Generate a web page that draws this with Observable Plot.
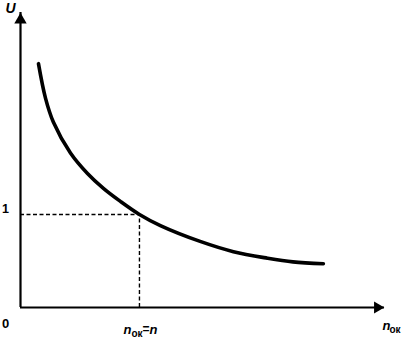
<!DOCTYPE html>
<html>
<head>
<meta charset="utf-8">
<script src="https://cdn.jsdelivr.net/npm/d3@7"></script>
<script src="https://cdn.jsdelivr.net/npm/@observablehq/plot@0.6"></script>
<style>
  html, body { margin: 0; padding: 0; background: #fff; }
</style>
</head>
<body>
<div id="chart"></div>
<script>
// Curve U(n_ok), with n_ok = n where U = 1
const nOk = [0.151, 0.21, 0.277, 0.42, 0.563, 0.697, 0.84, 1.0, 1.176, 1.51, 1.79, 2.076, 2.29, 2.546];
const U   = [2.62, 2.25, 1.99, 1.66, 1.44, 1.28, 1.14, 1.0, 0.88, 0.71, 0.60, 0.53, 0.49, 0.47];

const refN = 1;      // n_ok = n
const refU = 1;      // U = 1
const xMax = 3.06;
const yMax = 3.17;

const yTitle = "U";
const xTitle = "n";
const xTitleSub = "ок";
const originLabel = "0";
const yTickLabel = "1";

const curve = nOk.map((x, i) => ({x, u: U[i]}));

const font = "Liberation Sans, Arial, sans-serif";

const chart = Plot.plot({
  width: 404,
  height: 340,
  marginTop: 12,
  marginRight: 20,
  marginBottom: 33,
  marginLeft: 20,
  x: {domain: [0, xMax], axis: null},
  y: {domain: [0, yMax], axis: null},
  style: {fontFamily: font, background: "#fff", overflow: "visible"},
  marks: [
    // dashed reference lines
    Plot.ruleY([refU], {x1: 0, x2: refN, stroke: "black", strokeWidth: 1.4, strokeDasharray: "4,2.5"}),
    Plot.ruleX([refN], {y1: 0, y2: refU, stroke: "black", strokeWidth: 1.4, strokeDasharray: "4,2.5"}),
    // axes
    Plot.ruleY([0], {x1: 0, x2: xMax, stroke: "black", strokeWidth: 2.2}),
    Plot.ruleX([0], {y1: 0, y2: yMax, stroke: "black", strokeWidth: 2.2}),
    // arrow heads
    Plot.dot([{x: 0, y: yMax}], {x: "x", y: "y", symbol: "triangle", r: 4.6, fill: "black", stroke: "none", dy: 7.5}),
    Plot.dot([{x: xMax, y: 0}], {x: "x", y: "y", symbol: "triangle", r: 4.4, rotate: 90, fill: "black", stroke: "none", dx: -7}),
    // curve
    Plot.line(curve, {x: "x", y: "u", curve: "catmull-rom", stroke: "black", strokeWidth: 3.6, strokeLinecap: "round"}),
    // labels
    Plot.text([yTitle], {x: 0, y: yMax, text: d => d, dx: -10, dy: -4, fontSize: 14, fontStyle: "italic", fontWeight: "bold", fill: "black"}),
    Plot.text([originLabel], {x: 0, y: 0, text: d => d, dx: -15, dy: 16, fontSize: 13, fontWeight: "bold", fill: "black"}),
    Plot.text([yTickLabel], {x: 0, y: refU, text: d => d, dx: -15, dy: -5, fontSize: 12.5, fontWeight: "bold", fill: "black"}),
    // n_ok = n label under the reference point
    Plot.text([xTitle], {x: refN, y: 0, text: d => d, textAnchor: "start", dx: -16, dy: 22, fontSize: 13, fontStyle: "italic", fontWeight: "bold", fill: "black"}),
    Plot.text([xTitleSub], {x: refN, y: 0, text: d => d, textAnchor: "start", dx: -8, dy: 26, fontSize: 10, fontWeight: "bold", fill: "black"}),
    Plot.text(["="], {x: refN, y: 0, text: d => d, textAnchor: "start", dx: 3, dy: 22, fontSize: 12, fontWeight: "bold", fill: "black"}),
    Plot.text([xTitle], {x: refN, y: 0, text: d => d, textAnchor: "start", dx: 10, dy: 22, fontSize: 13, fontStyle: "italic", fontWeight: "bold", fill: "black"}),
    // x axis title
    Plot.text([xTitle], {x: xMax, y: 0, text: d => d, textAnchor: "start", dx: -2, dy: 18, fontSize: 13, fontStyle: "italic", fontWeight: "bold", fill: "black"}),
    Plot.text([xTitleSub], {x: xMax, y: 0, text: d => d, textAnchor: "start", dx: 5, dy: 22, fontSize: 10, fontWeight: "bold", fill: "black"})
  ]
});

document.getElementById("chart").appendChild(chart);
</script>
</body>
</html>
